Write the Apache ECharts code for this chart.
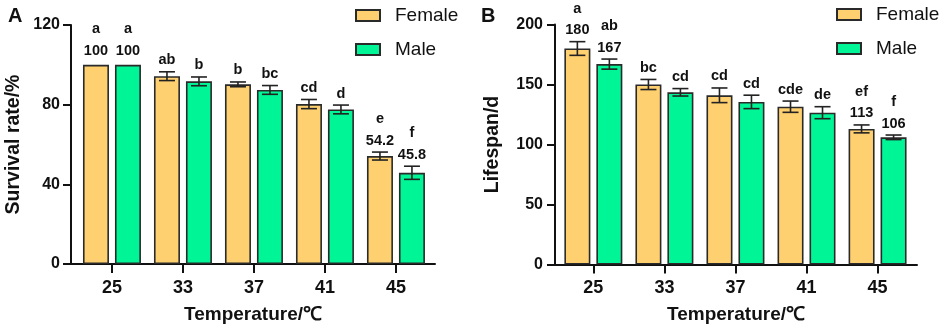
<!DOCTYPE html>
<html>
<head>
<meta charset="utf-8">
<script src="https://cdn.jsdelivr.net/npm/echarts@6/dist/echarts.min.js"></script>
<style>
html, body { margin: 0; padding: 0; background: #fff; }
#chart { width: 941px; height: 330px; }
</style>
</head>
<body>
<div id="chart"></div>
<script>
// temperatures (categories)
const temps = ['25', '33', '37', '41', '45'];

// panel A: survival rate / %
const survFemale = [100, 94.3, 90.2, 80.3, 54.2];
const survMale = [100, 91.7, 87.4, 77.6, 45.8];
const survFemaleSd = [0, 2.2, 1.2, 2.3, 2.0];
const survMaleSd = [0, 2.2, 2.2, 2.2, 3.3];
const survFemaleSig = ['a', 'ab', 'b', 'cd', 'e'];
const survMaleSig = ['a', 'b', 'bc', 'd', 'f'];
const survFemaleNum = ['100', null, null, null, '54.2'];
const survMaleNum = ['100', null, null, null, '45.8'];

// panel B: lifespan / d
const lifeFemale = [180, 150, 141, 131.5, 113];
const lifeMale = [167, 143.5, 135.5, 126.5, 106];
const lifeFemaleSd = [5.7, 4.2, 6.1, 4.7, 3.3];
const lifeMaleSd = [4.2, 3.1, 5.6, 5.0, 1.9];
const lifeFemaleSig = ['a', 'bc', 'cd', 'cde', 'ef'];
const lifeMaleSig = ['ab', 'cd', 'cd', 'de', 'f'];
const lifeFemaleNum = ['180', null, null, null, '113'];
const lifeMaleNum = ['167', null, null, null, '106'];

const FONT = '"Liberation Sans", Arial, sans-serif';
const colorFemale = '#FFD070';
const colorMale = '#00F596';
const ink = '#111';

function pairs(vals) {
    return vals.map((v, i) => [i, v]);
}

function errRender(sds, sig, num, shift) {
    return function (params, api) {
        let i = api.value(0);
        let m = api.value(1);
        let sd = sds[params.dataIndex];
        let top = api.coord([i, m + sd]);
        let bot = api.coord([i, m - sd]);
        let cx = top[0] + shift;
        let children = [];
        let lineStyle = { stroke: '#222', lineWidth: 1.6 };
        if (sd > 0) {
            children.push({ type: 'line', shape: { x1: cx, y1: top[1], x2: cx, y2: bot[1] }, style: lineStyle });
            children.push({ type: 'line', shape: { x1: cx - 8, y1: top[1], x2: cx + 8, y2: top[1] }, style: lineStyle });
            children.push({ type: 'line', shape: { x1: cx - 8, y1: bot[1], x2: cx + 8, y2: bot[1] }, style: lineStyle });
        }
        // significance letter, with the mean written under it for some bars
        let n = num[params.dataIndex];
        let labels = n ? [n, sig[params.dataIndex]] : [sig[params.dataIndex]];
        let gap = sd > 0 ? 11.5 : 14;
        labels.forEach((t, k) => {
            children.push({
                type: 'text',
                style: {
                    text: t, x: cx, y: top[1] - gap - k * 21.5,
                    align: 'center', verticalAlign: 'middle',
                    font: 'bold 14.5px ' + FONT, fill: ink
                }
            });
        });
        return { type: 'group', children: children };
    };
}

function barSeries(name, vals, color, idx) {
    return {
        name: name, type: 'bar', xAxisIndex: idx, yAxisIndex: idx,
        data: pairs(vals), barWidth: 26, barGap: '23%',
        itemStyle: { color: color, borderColor: '#2a2a2a', borderWidth: 1.6 }
    };
}

function errSeries(name, vals, sds, sig, num, shift, color, idx) {
    return {
        name: name, type: 'custom', xAxisIndex: idx, yAxisIndex: idx,
        data: pairs(vals), clip: false, z: 5,
        itemStyle: { color: color, borderColor: '#2a2a2a', borderWidth: 1.6 },
        renderItem: errRender(sds, sig, num, shift)
    };
}

function xAxisOf(idx, min, max) {
    return {
        type: 'value', gridIndex: idx, min: min, max: max,
        name: 'Temperature/℃', nameLocation: 'middle', nameGap: 41,
        nameTextStyle: { fontFamily: FONT, fontSize: 19, fontWeight: 'bold', color: ink },
        axisLine: { onZero: false, lineStyle: { color: ink, width: 2 } },
        axisTick: { customValues: [0, 1, 2, 3, 4], length: 9, lineStyle: { color: ink, width: 2 } },
        axisLabel: {
            customValues: [0, 1, 2, 3, 4], margin: 15,
            formatter: v => temps[Math.round(v)],
            fontFamily: FONT, fontSize: 18, fontWeight: 'bold', color: ink
        },
        splitLine: { show: false }
    };
}

function yAxisOf(idx, name, max, interval, nameGap, margin) {
    return {
        type: 'value', gridIndex: idx, min: 0, max: max, interval: interval,
        name: name, nameLocation: 'middle', nameGap: nameGap,
        nameTextStyle: { fontFamily: FONT, fontSize: 19.5, fontWeight: 'bold', color: ink },
        axisLine: { show: true, onZero: false, lineStyle: { color: ink, width: 2 } },
        axisTick: { show: true, length: 8, lineStyle: { color: ink, width: 2 } },
        axisLabel: { margin: margin, fontFamily: FONT, fontSize: 16, fontWeight: 'bold', color: ink },
        splitLine: { show: false }
    };
}

function legendOf(left, top) {
    return {
        data: ['Female', 'Male'], orient: 'vertical', left: left, top: top,
        padding: 0, icon: 'rect', itemWidth: 24, itemHeight: 11, itemGap: 15,
        textStyle: { fontFamily: FONT, fontSize: 19, color: ink, padding: [0, 0, 0, 10] }
    };
}

let chart = echarts.init(document.getElementById('chart'));
chart.setOption({
    animation: false,
    title: [
        { text: 'A', left: 8, top: 6, padding: 0, textStyle: { fontFamily: FONT, fontSize: 20, fontWeight: 'bold', color: ink } },
        { text: 'B', left: 481, top: 6, padding: 0, textStyle: { fontFamily: FONT, fontSize: 20, fontWeight: 'bold', color: ink } }
    ],
    legend: [legendOf(355, 6), legendOf(836, 5)],
    grid: [
        { left: 71, top: 25, width: 364, height: 239 },
        { left: 555, top: 24.5, width: 362, height: 240 }
    ],
    xAxis: [xAxisOf(0, -0.577, 4.55), xAxisOf(1, -0.54, 4.555)],
    yAxis: [
        yAxisOf(0, 'Survival rate/%', 120, 40, 47, 11),
        yAxisOf(1, 'Lifespan/d', 200, 50, 52, 12)
    ],
    series: [
        barSeries('Female', survFemale, colorFemale, 0),
        barSeries('Male', survMale, colorMale, 0),
        barSeries('Female', lifeFemale, colorFemale, 1),
        barSeries('Male', lifeMale, colorMale, 1),
        errSeries('Female', survFemale, survFemaleSd, survFemaleSig, survFemaleNum, -16, colorFemale, 0),
        errSeries('Male', survMale, survMaleSd, survMaleSig, survMaleNum, 16, colorMale, 0),
        errSeries('Female', lifeFemale, lifeFemaleSd, lifeFemaleSig, lifeFemaleNum, -16, colorFemale, 1),
        errSeries('Male', lifeMale, lifeMaleSd, lifeMaleSig, lifeMaleNum, 16, colorMale, 1)
    ]
});
</script>
</body>
</html>
